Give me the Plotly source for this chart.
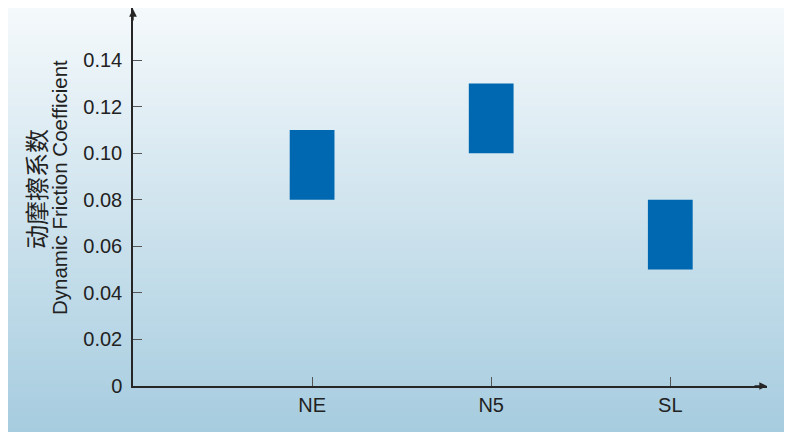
import plotly.graph_objects as go

categories = ["NE", "N5", "SL"]
low_values = [0.08, 0.10, 0.05]
high_values = [0.11, 0.13, 0.08]
y_tick_values = [0, 0.02, 0.04, 0.06, 0.08, 0.10, 0.12, 0.14]
y_tick_labels = ["0", "0.02", "0.04", "0.06", "0.08", "0.10", "0.12", "0.14"]

OFF = 8  # page body margin offset
W, H = 792 - OFF, 432 - OFF
L, R, T, B = 133 - OFF, 792 - 767, 0, 432 - 386
pw, ph = W - L - R, H - T - B

fig = go.Figure()
fig.add_trace(go.Bar(
    x=categories,
    y=[h - l for h, l in zip(high_values, low_values)],
    base=low_values,
    width=0.25,
    marker=dict(color="#0067b1", line=dict(width=0)),
    hoverinfo="skip",
))

# page pixel -> paper coords
def px_to_paper_x(px):
    return (px - OFF - L) / pw

def py_to_paper_y(py):
    return (H - B - (py - OFF)) / ph

top_c = (246, 250, 252)
bot_c = (166, 204, 223)
n = 110
shapes = []
for i in range(n):
    y0 = i * 432 / n
    y1 = (i + 1) * 432 / n + 0.6
    t = (i + 0.5) / n
    c = tuple(round(top_c[k] + (bot_c[k] - top_c[k]) * t) for k in range(3))
    shapes.append(dict(
        type="rect", xref="paper", yref="paper", layer="below",
        x0=px_to_paper_x(OFF), x1=px_to_paper_x(800),
        y0=py_to_paper_y(y1 + 2), y1=py_to_paper_y(y0 - 2 if i == 0 else y0),
        fillcolor="rgb(%d,%d,%d)" % c, line=dict(width=0),
    ))

axis_col = "#262626"
tick_col = "#555555"
font_fam = "Liberation Sans, Arial, sans-serif"

annotations = [
    dict(xref="paper", yref="paper", x=0, y=1, ax=0, ay=14,
         showarrow=True, arrowhead=2, arrowsize=1.1, arrowwidth=1.4, arrowcolor=axis_col, text=""),
    dict(xref="paper", yref="paper", x=1, y=0, ax=-14, ay=0,
         showarrow=True, arrowhead=2, arrowsize=1.1, arrowwidth=1.4, arrowcolor=axis_col, text=""),
    dict(xref="paper", yref="paper", x=px_to_paper_x(35), y=py_to_paper_y(189),
         text="动摩擦系数", textangle=-90, showarrow=False, xanchor="center", yanchor="middle",
         font=dict(family="Noto Sans CJK SC", size=24, color="#222")),
    dict(xref="paper", yref="paper", x=px_to_paper_x(59), y=py_to_paper_y(188),
         text="Dynamic Friction Coefficient", textangle=-90, showarrow=False,
         xanchor="center", yanchor="middle",
         font=dict(family=font_fam, size=20.5, color="#222")),
]

fig.update_layout(
    width=W, height=H,
    margin=dict(l=L, r=R, t=T, b=B, pad=0),
    paper_bgcolor="#d2e4ee",
    plot_bgcolor="rgba(0,0,0,0)",
    showlegend=False,
    shapes=shapes,
    annotations=annotations,
    font=dict(family=font_fam, size=20, color="#222"),
    xaxis=dict(
        type="category", range=[-1, 2.54], showgrid=False, zeroline=False,
        showline=True, linecolor=axis_col, linewidth=1.5,
        ticks="inside", ticklen=9, tickcolor=tick_col, tickwidth=1.2,
        tickfont=dict(size=20, color="#222"),
    ),
    yaxis=dict(
        range=[0, 0.1624], showgrid=False, zeroline=False,
        showline=True, linecolor=axis_col, linewidth=1.5,
        ticks="inside", ticklen=9, tickcolor=tick_col, tickwidth=1.2,
        tickvals=y_tick_values, ticktext=y_tick_labels,
        ticklabelstandoff=5,
        tickfont=dict(size=20, color="#222"),
    ),
)

fig.write_html("out.html")
